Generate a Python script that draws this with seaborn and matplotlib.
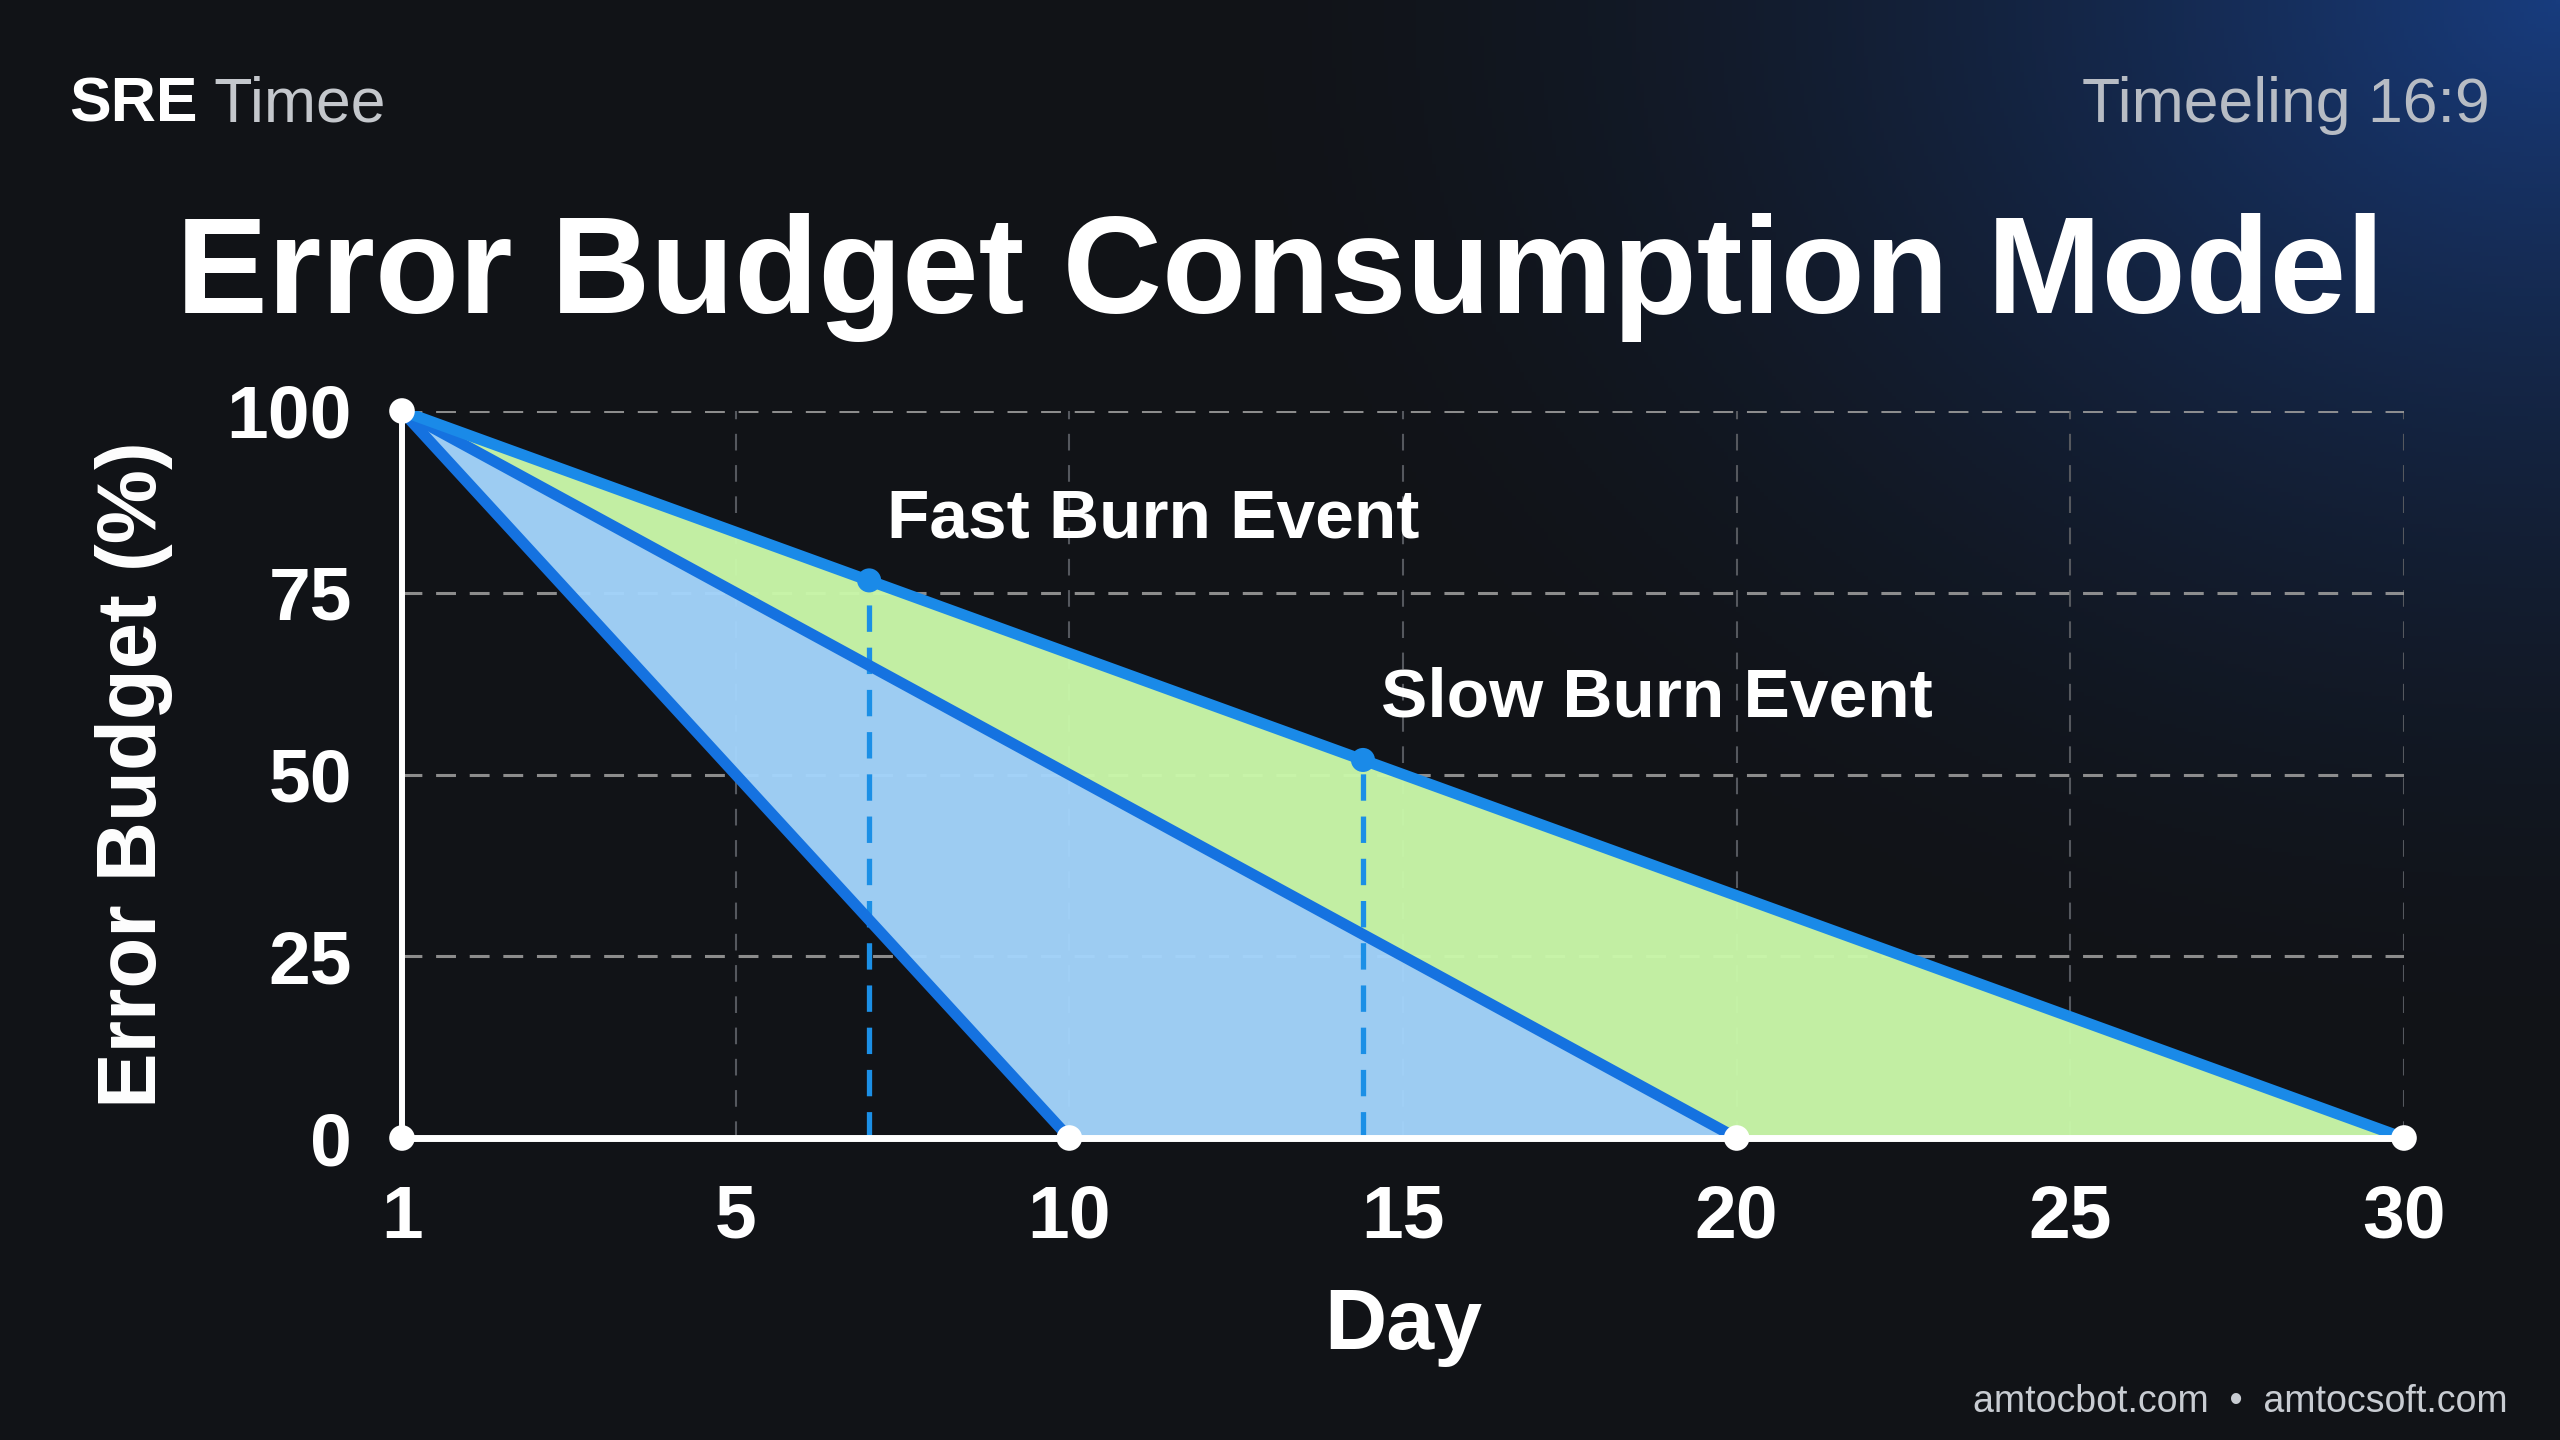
import numpy as np
import matplotlib
matplotlib.use("Agg")
from matplotlib import pyplot as plt
import seaborn as sns

# data
days_fast = [1, 10]
budget_fast = [100, 0]
days_normal = [1, 20]
budget_normal = [100, 0]
days_slow = [1, 30]
budget_slow = [100, 0]

milestone_days = [1, 1, 10, 20, 30]
milestone_budget = [100, 0, 0, 0, 0]

event_days = [7, 14.4]
event_budget = [76.7, 52]
event_labels = ['Fast Burn Event', 'Slow Burn Event']

x_ticks = [1, 5, 10, 15, 20, 25, 30]
y_ticks = [0, 25, 50, 75, 100]

sns.set_theme(style='dark')
plt.rcParams['font.family'] = ['Liberation Sans', 'DejaVu Sans']

fig = plt.figure(figsize=(25.6, 14.4), dpi=100)

# dark background with a blue glow in the top right corner
h, w = 360, 640
yy, xx = np.mgrid[0:1:h * 1j, 0:1:w * 1j]
d = np.sqrt(((xx - 1.0) / 0.55) ** 2 + (yy / 0.75) ** 2)
glow = np.clip(1 - d, 0, 1) ** 1.8
base = np.array([0x11, 0x13, 0x17]) / 255
blue = np.array([0x18, 0x3c, 0x7e]) / 255
img = base + glow[..., None] * (blue - base)
bg = fig.add_axes([0, 0, 1, 1], zorder=-10)
bg.imshow(img, aspect='auto', extent=[0, 1, 0, 1])
bg.axis('off')

ax = fig.add_axes([402 / 2560, 302 / 1440, 2002 / 2560, 727 / 1440])
ax.patch.set_alpha(0)

# shaded regions between the burn lines
fast_poly = list(zip(days_fast, budget_fast)) + list(zip(days_normal, budget_normal))[::-1]
slow_poly = list(zip(days_normal, budget_normal)) + list(zip(days_slow, budget_slow))[::-1]
ax.fill(*zip(*fast_poly), color='#a4d5fc', alpha=0.96, lw=0, zorder=1)
ax.fill(*zip(*slow_poly), color='#caf8aa', alpha=0.96, lw=0, zorder=1)

sns.lineplot(x=days_fast, y=budget_fast, ax=ax, color='#1572e0', lw=8, zorder=4)
sns.lineplot(x=days_normal, y=budget_normal, ax=ax, color='#1572e0', lw=8, zorder=4)
sns.lineplot(x=days_slow, y=budget_slow, ax=ax, color='#1a8ae8', lw=8, zorder=4)

ax.vlines(event_days, 0, event_budget, colors='#1b8fe6', linestyles=(0, (5, 3)), lw=3.8, zorder=3)
sns.scatterplot(x=event_days, y=event_budget, ax=ax, color='#1a8ae8', s=300, edgecolor='none',
                zorder=6, clip_on=False)
sns.scatterplot(x=milestone_days, y=milestone_budget, ax=ax, color='white', s=340, edgecolor='none',
                zorder=7, clip_on=False)

for xd, yb, lab in zip(event_days, event_budget, event_labels):
    ax.annotate(lab, (xd, yb), xytext=(13, 31), textcoords='offset points', ha='left', va='baseline',
                color='white', fontsize=50, fontweight='bold')

# day ticks are evenly spaced on the axis
tick_idx = np.arange(len(x_ticks))
ax.set_xscale('function', functions=(lambda v: np.interp(v, x_ticks, tick_idx),
                                     lambda i: np.interp(i, tick_idx, x_ticks)))
ax.set_xlim(1, 30)
ax.set_ylim(0, 100)
ax.set_xticks(x_ticks)
ax.set_xticklabels([str(t) for t in x_ticks])
ax.set_xticks([], minor=True)
ax.set_yticks(y_ticks)
ax.grid(axis='y', color='#9a9a9a', lw=2.2, linestyle=(0, (6.5, 4.5)), alpha=0.9)
ax.grid(axis='x', color='#55585e', lw=1.5, linestyle=(0, (8, 7)))
ax.set_axisbelow(True)

for side in ['top', 'right']:
    ax.spines[side].set_visible(False)
ax.spines['left'].set_color('white')
ax.spines['left'].set_linewidth(4.3)
ax.spines['bottom'].set_color('white')
ax.spines['bottom'].set_linewidth(5)
ax.spines['left'].set_zorder(5)
ax.spines['bottom'].set_zorder(5)

ax.tick_params(axis='x', colors='white', labelsize=54, length=7, width=2.5, pad=26)
ax.tick_params(axis='y', colors='white', labelsize=54, length=0, pad=36)
for t in ax.get_xticklabels() + ax.get_yticklabels():
    t.set_fontweight('bold')

ax.set_xlabel('Day', color='white', fontsize=62, fontweight='bold')
ax.xaxis.set_label_coords(0.5, -0.29)
ax.xaxis.label.set_va('baseline')
ax.set_ylabel('Error Budget (%)', color='white', fontsize=60, fontweight='bold')
ax.yaxis.set_label_coords(-0.134, 0.5)
ax.yaxis.label.set_va('center')

fig.text(0.5, 1 - 313 / 1440, 'Error Budget Consumption Model', ha='center', va='baseline',
         color='white', fontsize=99, fontweight='bold')

sre = fig.text(69 / 2560, 1 - 122 / 1440, 'SRE', ha='left', va='baseline', color='white',
               fontsize=45, fontweight='bold')
ax.annotate(' Timee', xy=(1, 0), xycoords=sre, ha='left', va='bottom', color='#c4c7cc',
            fontsize=45, annotation_clip=False)
fig.text(2490 / 2560, 1 - 122 / 1440, 'Timeeling 16:9', ha='right', va='baseline', color='#b7bcc4',
         fontsize=45)
fig.text(2508 / 2560, 1 - 1412 / 1440, 'amtocbot.com  \u2022  amtocsoft.com', ha='right', va='baseline',
         color='#c8ccd2', fontsize=27)

fig.savefig('out.png', dpi=100)
